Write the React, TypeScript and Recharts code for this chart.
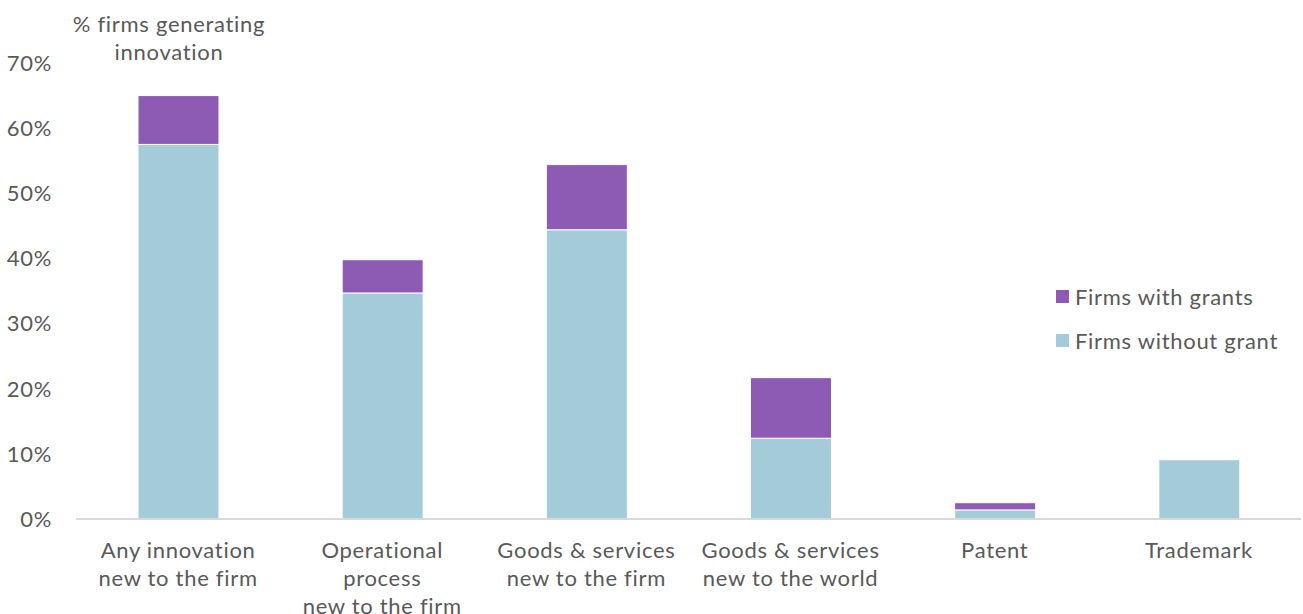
import { BarChart, Bar, XAxis, YAxis } from 'recharts';

const categories = [
  'Any innovation\nnew to the firm',
  'Operational\nprocess\nnew to the firm',
  'Goods & services\nnew to the firm',
  'Goods & services\nnew to the world',
  'Patent',
  'Trademark',
];
const withoutGrant = [57.5, 34.7, 44.4, 12.4, 1.4, 9.1];
const withGrants = [7.5, 5.1, 10.0, 9.3, 1.1, 0];
const yTicks = [0, 10, 20, 30, 40, 50, 60, 70];

const data = categories.map((name, i) => ({
  name,
  without: withoutGrant[i],
  with: withGrants[i],
}));

const FONT = 'Lato, "Noto Sans", sans-serif';
const TEXT = '#595959';
const PURPLE = '#8d5bb3';
const BLUE = '#a3cbd8';
const SPACING = 0.7;

function CategoryTick(props: any) {
  const { x, y, payload } = props;
  const lines = String(payload.value).split('\n');
  return (
    <text x={x} y={y} textAnchor="middle" fill={TEXT} fontSize={22} fontFamily={FONT} letterSpacing={SPACING}>
      {lines.map((l, i) => (
        <tspan key={i} x={x} dy={i === 0 ? 37 : 28}>
          {l}
        </tspan>
      ))}
    </text>
  );
}

const legendItems = [
  { label: 'Firms with grants', color: PURPLE },
  { label: 'Firms without grant', color: BLUE },
];

export default function App() {
  return (
    <div style={{ position: 'relative', width: 1303, height: 614, background: '#fff' }}>
      <style>{'body{margin:0}'}</style>
      <div
        style={{
          position: 'absolute',
          left: 48,
          top: 10,
          width: 242,
          textAlign: 'center',
          fontFamily: FONT,
          fontSize: 22,
          color: TEXT,
          lineHeight: '28px',
          letterSpacing: SPACING,
        }}
      >
        % firms generating
        <br />
        innovation
      </div>
      <div
        style={{
          position: 'absolute',
          left: 1056,
          top: 274,
          fontFamily: FONT,
          fontSize: 22,
          color: TEXT,
          letterSpacing: SPACING,
        }}
      >
        {legendItems.map((it) => (
          <div key={it.label} style={{ display: 'flex', alignItems: 'center', height: 44 }}>
            <span style={{ width: 13, height: 13, background: it.color, marginRight: 6, display: 'inline-block' }} />
            {it.label}
          </div>
        ))}
      </div>
      <BarChart
        width={1303}
        height={614}
        data={data}
        margin={{ top: 63, right: 2, bottom: 0, left: 0 }}
        barCategoryGap={0}
      >
        <XAxis
          dataKey="name"
          interval={0}
          tick={<CategoryTick />}
          tickLine={false}
          tickSize={0}
          axisLine={{ stroke: '#d9d9d9', strokeWidth: 2 }}
          height={95}
        />
        <YAxis
          domain={[0, 70]}
          ticks={yTicks}
          tickFormatter={(v) => `${v}%`}
          axisLine={false}
          tickLine={false}
          tickSize={0}
          tickMargin={24}
          width={76}
          tick={{ fill: TEXT, fontSize: 22, fontFamily: FONT, letterSpacing: SPACING }}
        />
        <Bar dataKey="without" stackId="a" fill={BLUE} stroke="#fff" strokeWidth={1} barSize={81} isAnimationActive={false} />
        <Bar dataKey="with" stackId="a" fill={PURPLE} stroke="#fff" strokeWidth={1} barSize={81} isAnimationActive={false} />
      </BarChart>
    </div>
  );
}
